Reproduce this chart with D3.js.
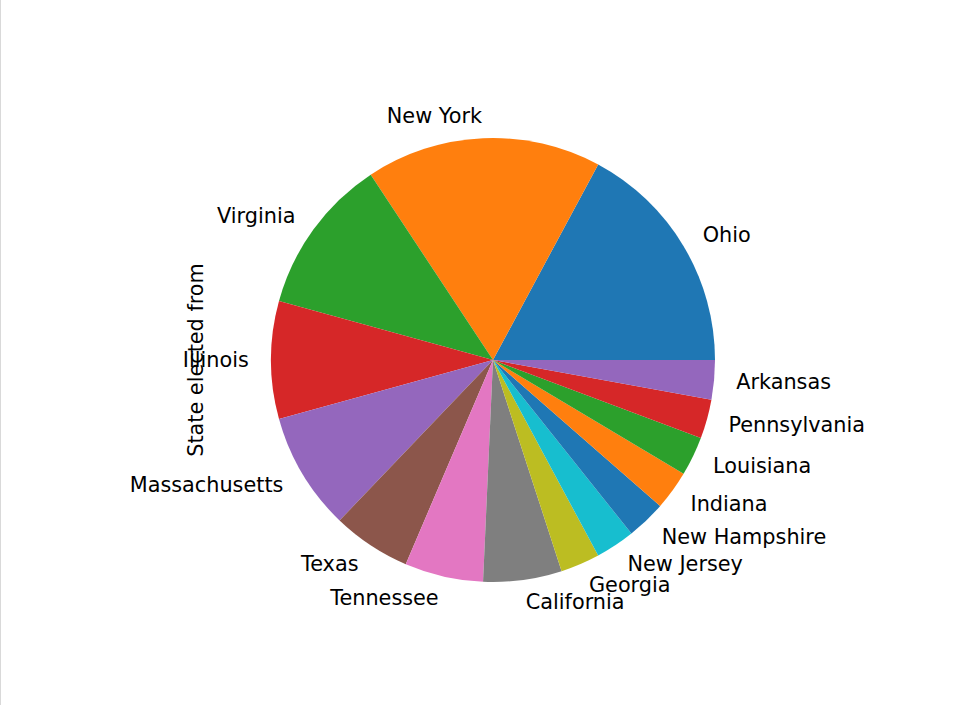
<!DOCTYPE html>
<html><head><meta charset="utf-8">
<script src="https://cdn.jsdelivr.net/npm/d3@7"></script>
<style>html,body{margin:0;padding:0;background:#fff;}svg{display:block;}</style>
</head><body>
<script>
const states = ["Ohio","New York","Virginia","Illinois","Massachusetts","Texas","Tennessee","California","Georgia","New Jersey","New Hampshire","Indiana","Louisiana","Pennsylvania","Arkansas"];
const counts = [6,6,4,3,3,2,2,2,1,1,1,1,1,1,1];
const palette = ["#1f77b4","#ff7f0e","#2ca02c","#d62728","#9467bd","#8c564b","#e377c2","#7f7f7f","#bcbd22","#17becf"];
const yLabel = "State elected from";

const W = 961, H = 705, cx = 493, cy = 360, R = 222;
const FS = 20.8;
const svg = d3.select("body").append("svg").attr("width", W).attr("height", H);
svg.append("rect").attr("width", W).attr("height", H).attr("fill", "#fff");
svg.append("line").attr("x1",0.5).attr("x2",0.5).attr("y1",0).attr("y2",H).attr("stroke","#d9d9d9").attr("stroke-width",1);

const total = d3.sum(counts);
// angle scale: matplotlib starts at 3 o'clock, counterclockwise
const ang = d3.scaleLinear().domain([0, total]).range([0, 2*Math.PI]);
const data = states.map((s,i)=>({s, v:counts[i], i}));
let cum = 0;
data.forEach(d=>{ d.a0 = ang(cum); cum += d.v; d.a1 = ang(cum); });
const toD3 = a => Math.PI/2 - a;
const arc = d3.arc().innerRadius(0).outerRadius(R);
const g = svg.append("g").attr("transform",`translate(${cx},${cy})`);
g.selectAll("path").data(data).join("path")
  .attr("d", d=>arc({startAngle: toD3(d.a1), endAngle: toD3(d.a0)}))
  .attr("fill", d=>palette[d.i % palette.length]);

g.selectAll("text").data(data).join("text")
  .each(function(d){
    const m = (d.a0+d.a1)/2;
    const x = 1.1*R*Math.cos(m), y = -1.1*R*Math.sin(m);
    d3.select(this).attr("x", x).attr("y", y)
      .attr("text-anchor", x > 0 ? "start" : "end")
      .attr("dominant-baseline","central");
  })
  .attr("font-family","DejaVu Sans").attr("font-size",FS).attr("fill","#000")
  .text(d=>d.s);

svg.append("text").attr("transform",`translate(196,${cy}) rotate(-90)`)
  .attr("text-anchor","middle").attr("dominant-baseline","central")
  .attr("font-family","DejaVu Sans").attr("font-size",FS).attr("fill","#000")
  .text(yLabel);
</script>
</body></html>
